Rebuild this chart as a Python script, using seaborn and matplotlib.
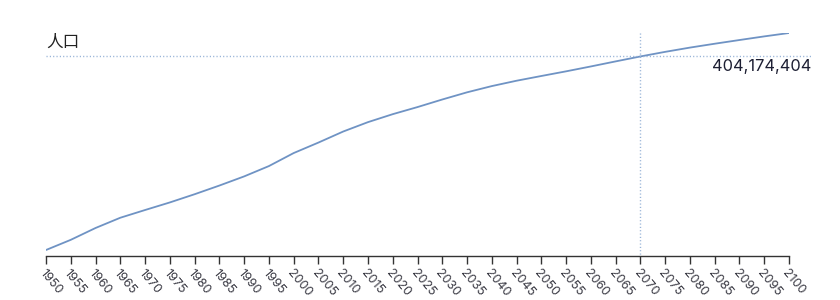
import matplotlib
matplotlib.use("Agg")
import matplotlib.pyplot as plt
import seaborn as sns
import pandas as pd

years = list(range(1950, 2101, 5))
population_millions = [158.8, 171.7, 186.7, 199.7, 209.5, 219.1, 229.5, 240.5, 252.1, 265.2,
                       281.7, 295.0, 309.0, 320.9, 331.0, 340.0, 349.6, 358.7, 366.6, 373.4,
                       379.4, 385.3, 391.5, 397.9, 404.174404, 410.0, 415.4, 420.3, 425.0, 429.6, 433.9]
highlight_year = 2070
highlight_label = "404,174,404"
y_title = "人口"

sns.set_theme(style="white")
plt.rcParams['font.family'] = ['Inter', 'Noto Sans CJK SC', 'DejaVu Sans']

df = pd.DataFrame({"year": years, "pop": population_millions})

fig = plt.figure(figsize=(8.4, 3.0), dpi=100)
ax = fig.add_axes([46/840, 44/300, 743/840, 223/300])

sns.lineplot(data=df, x="year", y="pop", ax=ax, color="#6f93c4", linewidth=1.3)

hv = df.loc[df.year == highlight_year, "pop"].iloc[0]
ax.set_xlim(1950, 2100)
ax.set_ylim(151.2, 433.9)

dot = (0, (0.8, 1.6))
ax.axhline(hv, xmin=0, xmax=(812-46)/743, color="#93b0d6", linestyle=dot, linewidth=1, clip_on=False)
ax.plot([highlight_year, highlight_year], [433.9, 151.2 + 0.5], color="#93b0d6",
        linestyle=dot, linewidth=1)

ax.annotate(highlight_label, xy=((811-46)/743, hv), xycoords=("axes fraction", "data"),
            xytext=(0, -2), textcoords="offset points", ha="right", va="top",
            fontsize=11.8, color="#1d1f33", annotation_clip=False)

fig.text(46/840, 1 - 42/300, y_title, ha="left", va="center", fontsize=12,
         color="#222222", family=['Noto Sans CJK SC', 'DejaVu Sans'])

for s in ["top", "right", "left"]:
    ax.spines[s].set_visible(False)
ax.spines["bottom"].set_color("#333333")
ax.spines["bottom"].set_linewidth(1)
ax.set_xticks(years)
ax.set_xticklabels([str(y) for y in years], rotation=-50, ha="left", va="top",
                   rotation_mode="anchor", fontsize=9, color="#3a3a44")
ax.tick_params(axis="x", bottom=True, length=6, width=1, color="#333333", pad=2)
ax.set_yticks([])
ax.set_xlabel("")
ax.set_ylabel("")

fig.savefig("out.png", dpi=100)
